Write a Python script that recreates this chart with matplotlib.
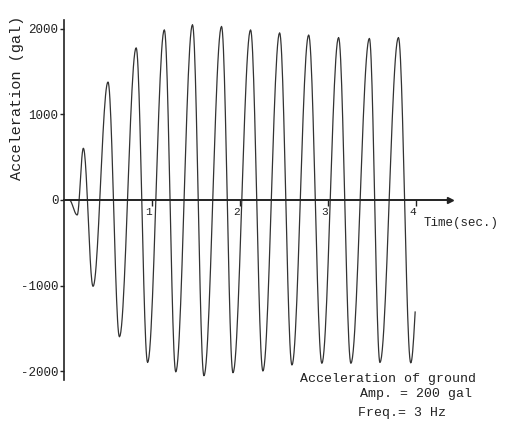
import matplotlib
matplotlib.use("Agg")
import matplotlib.pyplot as plt
import numpy as np

# extrema of the response curve (time s, acceleration gal)
peak_t = [0.06, 0.15, 0.22, 0.33, 0.50, 0.63, 0.82, 0.95, 1.14, 1.27, 1.46, 1.59,
          1.79, 1.92, 2.12, 2.26, 2.45, 2.59, 2.78, 2.93, 3.12, 3.26, 3.47, 3.59,
          3.80, 3.94]
peak_v = [0, -175, 605, -1010, 1380, -1600, 1780, -1900, 1990, -2010, 2050, -2055,
          2030, -2020, 1990, -2000, 1955, -1930, 1930, -1910, 1900, -1910, 1890, -1900,
          1900, -1905]
end_t = 3.99
end_v = -1310

yticks = [-2000, -1000, 0, 1000, 2000]
xticks = [1, 2, 3, 4]

font = "Liberation Mono"
ink = "#222222"

# smooth half-cosine between neighbouring extrema
tt, vv = [], []
for i in range(len(peak_t) - 1):
    s = np.linspace(0, 1, 25)
    tt.append(peak_t[i] + (peak_t[i + 1] - peak_t[i]) * s)
    vv.append(peak_v[i] + (peak_v[i + 1] - peak_v[i]) * (1 - np.cos(np.pi * s)) / 2)
s = np.linspace(0, 1, 10)
tt.append(peak_t[-1] + (end_t - peak_t[-1]) * s)
vv.append(peak_v[-1] + (end_v - peak_v[-1]) * (1 - np.cos(np.pi / 2 * s)))
tt = np.concatenate(tt)
vv = np.concatenate(vv)

fig = plt.figure(figsize=(5.06, 4.26), dpi=100)
ax = fig.add_axes([64 / 506, 1 - 380 / 426, (450 - 64) / 506, 360 / 426])

ax.plot(tt, vv, color="#333333", lw=0.9)

ax.set_xlim(0, 4.386)
ax.set_ylim(-2105, 2105)

for side in ["top", "right"]:
    ax.spines[side].set_visible(False)
ax.spines["bottom"].set_position(("data", 0))
ax.spines["left"].set_position(("data", 0))
ax.spines["bottom"].set_linewidth(1.4)
ax.spines["left"].set_linewidth(1.2)
ax.spines["bottom"].set_color(ink)
ax.spines["left"].set_color(ink)
ax.plot(1, 0, ">", color=ink, ms=4, transform=ax.get_yaxis_transform(), clip_on=False)

ax.set_yticks(yticks)
ax.set_yticklabels([str(v) for v in yticks], fontfamily=font, fontsize=9)
ax.tick_params(axis="y", direction="out", length=3, width=1, pad=1, colors=ink)
ax.set_xticks(xticks)
ax.set_xticklabels([str(v) for v in xticks], fontfamily=font, fontsize=8)
ax.tick_params(axis="x", direction="out", length=4, width=1, pad=1, colors=ink)
for lab in ax.get_xticklabels():
    lab.set_horizontalalignment("right")

fig.text(17 / 506, 1 - 98 / 426, "Acceleration (gal)", rotation=90, ha="center",
         va="center", fontfamily=font, fontsize=11, color=ink)
fig.text(424 / 506, 1 - 223 / 426, "Time(sec.)", ha="left", va="center",
         fontfamily=font, fontsize=9, color=ink)
fig.text(300 / 506, 1 - 379 / 426, "Acceleration of ground", ha="left", va="center",
         fontfamily=font, fontsize=9.5, color=ink)
fig.text(360 / 506, 1 - 394 / 426, "Amp. = 200 gal", ha="left", va="center",
         fontfamily=font, fontsize=9.5, color=ink)
fig.text(358 / 506, 1 - 413 / 426, "Freq.= 3 Hz", ha="left", va="center",
         fontfamily=font, fontsize=9.5, color=ink)

fig.savefig("out.png", dpi=100)
